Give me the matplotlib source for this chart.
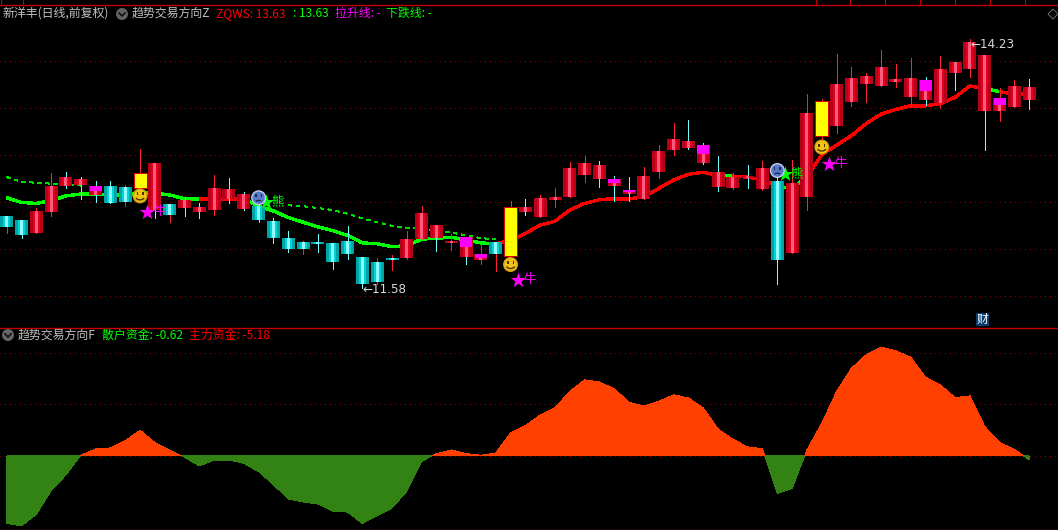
import numpy as np
import matplotlib
matplotlib.use('Agg')
import matplotlib.pyplot as plt
from matplotlib.patches import Circle, Polygon, Arc, Rectangle
from matplotlib.transforms import IdentityTransform

plt.rcParams['font.family'] = ['Noto Sans CJK SC', 'DejaVu Sans']

opens = [12.35,12.30,12.17,12.39,12.67,12.68,12.57,12.67,12.65,12.64,
         12.41,12.47,12.43,12.39,12.41,12.53,12.42,12.45,12.29,12.11,
         12.07,12.07,12.06,12.08,11.91,11.86,11.90,11.90,12.10,12.11,
         12.06,11.91,11.88,12.07,11.92,12.39,12.34,12.52,12.55,12.78,
         12.74,12.66,12.58,12.53,12.81,13.05,13.07,12.91,12.65,12.64,
         12.75,12.63,12.72,11.95,12.55,13.20,13.30,13.56,13.75,13.73,
         13.77,13.61,13.58,13.55,13.87,13.91,13.46,13.46,13.51,13.58]
closes = [12.23,12.14,12.40,12.67,12.76,12.74,12.67,12.48,12.50,12.80,
          12.91,12.36,12.52,12.44,12.64,12.63,12.58,12.30,12.11,12.00,
          12.00,12.05,11.86,11.94,11.62,11.64,11.88,12.10,12.38,12.25,
          12.08,12.12,11.94,11.94,12.44,12.44,12.54,12.55,12.86,12.91,
          12.89,12.74,12.62,12.77,13.04,13.16,13.14,13.10,12.81,12.76,
          12.77,12.86,11.88,12.70,13.44,13.57,13.75,13.81,13.84,13.93,
          13.80,13.81,13.79,13.91,13.98,14.20,14.06,13.60,13.73,13.72]
highs = [12.35,12.30,12.43,12.80,12.81,12.76,12.72,12.72,12.68,13.06,
         12.91,12.47,12.55,12.48,12.78,12.75,12.60,12.47,12.32,12.19,
         12.08,12.15,12.06,12.24,11.91,11.90,11.93,12.19,12.45,12.25,
         12.15,12.12,12.05,12.07,12.51,12.53,12.57,12.64,12.92,12.98,
         12.93,12.77,12.76,12.87,13.10,13.34,13.37,13.12,12.98,12.80,
         12.89,12.93,12.77,12.94,13.64,13.59,14.07,13.93,13.87,14.11,
         13.96,14.03,13.83,14.05,13.98,14.23,14.06,13.71,13.79,13.80]
lows = [12.17,12.11,12.17,12.35,12.64,12.53,12.50,12.48,12.45,12.64,
        12.32,12.28,12.35,12.33,12.36,12.48,12.41,12.28,12.06,11.96,
        11.94,11.96,11.78,11.89,11.58,11.62,11.77,11.89,12.10,11.97,
        11.98,11.84,11.84,11.76,11.92,12.36,12.34,12.44,12.55,12.71,
        12.65,12.51,12.51,12.53,12.75,13.00,13.06,12.90,12.61,12.63,
        12.64,12.62,11.62,11.95,12.41,13.15,13.23,13.52,13.56,13.73,
        13.72,13.52,13.53,13.51,13.69,13.83,13.05,13.36,13.51,13.48]
cyan_wicks = [1,4,5,6,7,10,12,13,15,16,17,18,19,21,22,23,24,29,31,35,40,41,42,
              46,47,48,50,52,62,64,66,69]

trend = [12.54,12.49,12.48,12.51,12.56,12.58,12.58,12.57,12.57,12.59,
         12.59,12.57,12.53,12.53,12.53,12.53,12.53,12.45,12.40,12.33,
         12.28,12.23,12.19,12.14,12.06,12.05,12.02,12.03,12.10,12.11,
         12.12,12.09,12.06,12.05,12.09,12.16,12.25,12.29,12.41,12.48,
         12.52,12.53,12.53,12.55,12.64,12.73,12.79,12.81,12.78,12.77,
         12.76,12.73,12.66,12.64,12.76,13.00,13.10,13.20,13.33,13.43,
         13.48,13.52,13.52,13.54,13.61,13.73,13.70,13.67,13.64,13.64]
green_runs = [(0,13),(16,33),(48,49),(52,54),(66,67)]

dash_a_bars = [0,1,2,3,4,5]
dash_a = [12.76,12.71,12.70,12.69,12.68,12.67]
dash_b_bars = [19,20,21,22,23,24,25,26,27,28,29,30,31,32,33]
dash_b = [12.46,12.45,12.43,12.41,12.37,12.32,12.28,12.24,12.22,12.21,12.19,12.17,12.14,12.11,12.10]

yellow_bars = [9,34,55]
magenta_bars = [6,31,32,41,42,47,62,67]
magenta_top = [12.67,12.12,11.94,12.74,12.62,13.10,13.79,13.60]
magenta_bot = [12.61,12.02,11.90,12.70,12.60,13.01,13.68,13.53]

smile_bars = [9,34,55]
smile_y = [12.56,11.83,13.08]
sad_bars = [17,52]
sad_y = [12.54,12.83]
bull_x = [9.5,34.5,55.5]
bull_y = [12.39,11.67,12.90]
bear_x = [17.5,52.5]
bear_y = [12.49,12.79]

flow = [-87.3,-90.3,-75.6,-44.9,-24.6,0.9,9.1,10.4,19.9,33.3,
        17.3,7.8,-1.7,-13.0,-5.2,-5.2,-9.5,-20.3,-37.2,-55.7,
        -59.6,-62.2,-71.3,-72.6,-87.3,-77.3,-67.4,-45.8,-6.9,3.0,
        7.8,3.0,0.9,3.9,29.8,39.3,53.1,62.2,83.8,98.5,
        95.9,86.8,69.6,64.4,70.8,79.1,75.2,62.2,35.0,21.6,
        11.7,9.5,-48.4,-42.3,7.8,42.3,83.4,113.6,130.9,140.8,
        136.1,127.9,102.0,92.0,75.6,77.8,38.0,17.3,8.6,-5.18]

price_grid = [14.0,13.5,13.0,12.5,12.0,11.5]
flow_grid = [132.7,66.7,0]
time_ticks = [1,23,816,850,885,920,955,990,1025]

W, H = 1058, 530
RED_LINE = '#c00000'
GRID = '#8c0000'
DOTS = (0,(1,4.4))

fig = plt.figure(figsize=(W/100,H/100), dpi=100, facecolor='black')

def panel(top, bottom):
    a = fig.add_axes([0, 1-bottom/H, 1, (bottom-top)/H], facecolor='black')
    a.set_xlim(-0.452, 70.94)
    a.axis('off')
    a.patch.set_visible(True)
    return a

ax = panel(5, 327)
ax.set_ylim(11.165, 14.591)
ax2 = panel(328, 530)
ax2.set_ylim(-95.8, 165.7)

x = np.arange(len(opens))

for g in price_grid:
    ax.axhline(g, color=GRID, lw=0.72, ls=DOTS, zorder=1, antialiased=False)
for g in flow_grid:
    ax2.axhline(g, color=GRID, lw=0.72, ls=DOTS, zorder=1, antialiased=False)

# dashed upper line
for bars, vals in [(dash_a_bars,dash_a),(dash_b_bars,dash_b)]:
    ax.plot(bars, vals, color='#00e000', lw=0.6, ls=(0,(4,5)), zorder=2, antialiased=False)

# trend line, coloured per segment
for i in range(len(trend)-1):
    is_green = any(a <= i < b for a,b in green_runs)
    ax.plot(x[i:i+2], trend[i:i+2], color='#00ff00' if is_green else '#ff0000',
            lw=1.7, zorder=3, solid_capstyle='butt', antialiased=False)

# candles
o = np.array(opens)
c = np.array(closes)
up = c >= o
wick_cols = ['#70ffff' if i in cyan_wicks else '#ff2030' for i in x]
ax.vlines(x, lows, highs, colors=wick_cols, lw=0.6, zorder=4, antialiased=False)
bw = 1/14.82
for mask, cols in [(up,['#b80018','#e4001c','#ff5c80']), (~up,['#00a4a4','#00d4d4','#90ffff'])]:
    for w, col in zip([13,7,3], cols):
        ax.bar(x[mask], np.abs(c-o)[mask], bottom=np.minimum(o,c)[mask], width=w*bw,
               color=col, zorder=5, antialiased=False)

for b in yellow_bars:
    ax.bar(b, closes[b]-opens[b], bottom=opens[b], width=13*bw, color='#ffff00',
           edgecolor='#e00000', lw=0.72, zorder=6, antialiased=False)
ax.bar(magenta_bars, np.array(magenta_top)-np.array(magenta_bot), bottom=magenta_bot,
       width=12*bw, color='#ff00ff', zorder=6, antialiased=False)

# lower area
ax2.fill_between(x, flow, 0, where=np.array(flow) >= 0, interpolate=True, color='#ff4000',
                 lw=0, zorder=3, antialiased=False)
ax2.fill_between(x, flow, 0, where=np.array(flow) <= 0, interpolate=True, color='#328214',
                 lw=0, zorder=3, antialiased=False)

# screen space helpers, everything here is in pixels from the top left
T = IdentityTransform()
def d(px, py):
    return (px, H-py)
def data_px(bar, price):
    return ax.transData.transform((bar, price))

def face(bar, price, happy):
    cx, cy = data_px(bar, price)
    fill, rim, ink = ('#f0c414','#d8a010','#503000') if happy else ('#5878c8','#c8d4f8','#202850')
    fig.add_artist(Circle((cx,cy), 7.5, transform=T, fc=rim, ec='none', zorder=10))
    fig.add_artist(Circle((cx,cy), 6.2, transform=T, fc=fill, ec='none', zorder=10))
    for dx in (-2.8,2.8):
        fig.add_artist(Rectangle((cx+dx-0.7,cy+0.5), 1.6, 3, transform=T, fc=ink, ec='none', zorder=11))
    if happy:
        fig.add_artist(Arc((cx,cy-0.5), 9, 7, theta1=200, theta2=340, transform=T, ec=ink, lw=1, zorder=11))
    else:
        fig.add_artist(Arc((cx,cy-5), 8, 4.5, theta1=30, theta2=150, transform=T, ec=ink, lw=1, zorder=11))

for b, p in zip(smile_bars, smile_y):
    face(b, p, True)
for b, p in zip(sad_bars, sad_y):
    face(b, p, False)

ax.scatter(bull_x, bull_y, marker='*', s=140, color='#ff00ff', lw=0, zorder=12)
ax.scatter(bear_x, bear_y, marker='*', s=140, color='#00ff00', lw=0, zorder=12)
for bx, by in zip(bull_x, bull_y):
    ax.annotate('牛', (bx,by), xytext=(4,0), textcoords='offset points', color='#ff00ff',
                fontsize=9, va='center', zorder=12)
for bx, by in zip(bear_x, bear_y):
    ax.annotate('熊', (bx,by), xytext=(4,0), textcoords='offset points', color='#00ff00',
                fontsize=9, va='center', zorder=12)

ax.text(24, 11.56, '←11.58', color='#d8d8d8', fontsize=8.6, va='center', zorder=12,
        family=['DejaVu Sans'])
ax.text(65, 14.17, '←14.23', color='#d8d8d8', fontsize=8.6, va='center', zorder=12,
        family=['DejaVu Sans'])

# frame lines
fig.add_artist(plt.Line2D([0,1],[1-4.5/H]*2, color=RED_LINE, lw=1, zorder=9))
fig.add_artist(plt.Line2D([0,1],[1-327.5/H]*2, color=RED_LINE, lw=1, zorder=9))
fig.add_artist(plt.Line2D([0,1],[1-529.5/H]*2, color=RED_LINE, lw=1, zorder=9))
for t in time_ticks:
    fig.add_artist(plt.Line2D([t/W]*2,[1-4.5/H,1], color=RED_LINE, lw=0.8, zorder=9))

def label(px, py, s, col, size=8.6):
    fig.text(px/W, 1-py/H, s, color=col, fontsize=size, va='center', ha='left', zorder=12)

def badge(px, py):
    fig.add_artist(Circle(d(px,py), 6, transform=T, fc='#646464', ec='none', zorder=11))
    fig.add_artist(plt.Line2D([px-3,px,px+3],[H-py+1,H-py-2,H-py+1], transform=T, color='#101010', lw=1.2, zorder=12))

label(3, 13.5, '新洋丰(日线,前复权)', '#c0c0c0')
badge(122, 14)
label(132, 13.5, '趋势交易方向Z', '#c0c0c0')
label(216, 13.5, 'ZQWS: 13.63', '#ff0000')
label(293, 13.5, ': 13.63', '#00ff00')
label(335, 13.5, '拉升线: -', '#ff00ff')
label(386, 13.5, '下跌线: -', '#00ff00')

badge(8, 335)
label(18, 335.5, '趋势交易方向F', '#c0c0c0')
label(102, 335.5, '散户资金: -0.62', '#00ff00')
label(189, 335.5, '主力资金: -5.18', '#ff0000')

fig.add_artist(Rectangle(d(976,326), 13, 13, transform=T, fc='#0c3c6c', ec='none', zorder=11))
fig.text(982.5/W, 1-319.5/H, '财', color='white', fontsize=8.5, ha='center', va='center', zorder=12)
fig.add_artist(Polygon([d(1053,9),d(1058,14),d(1053,19),d(1048,14)], closed=True, transform=T,
                       fc='none', ec='#707070', lw=0.7, zorder=11))

fig.savefig('out.png', dpi=100, facecolor='black')
